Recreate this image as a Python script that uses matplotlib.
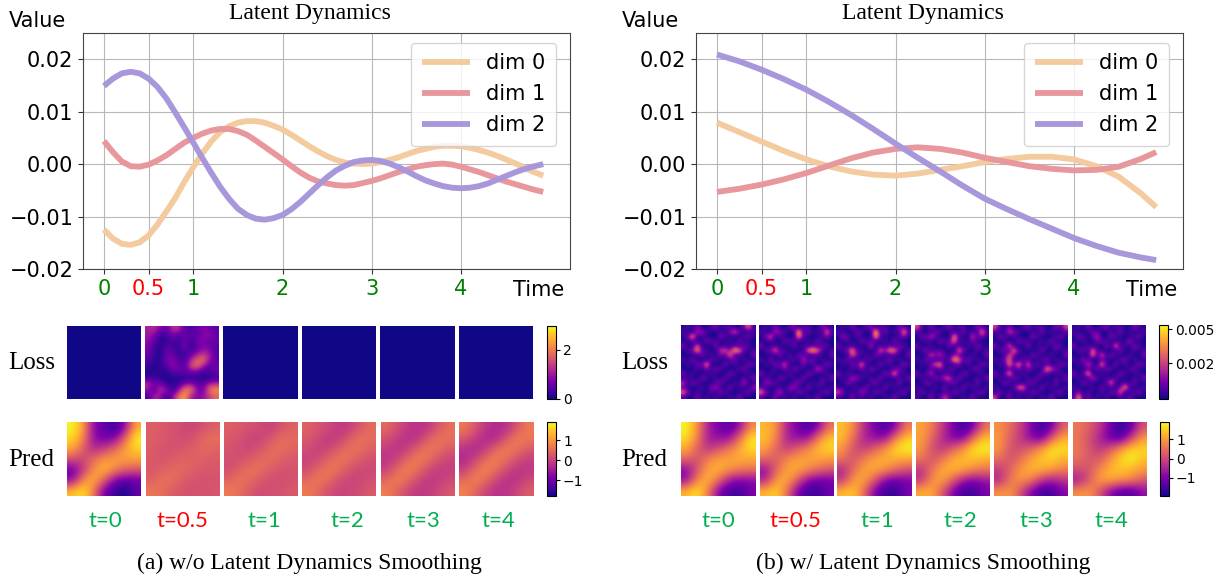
import numpy as np
import matplotlib
matplotlib.use('Agg')
import matplotlib.pyplot as plt
from matplotlib.cm import ScalarMappable
from matplotlib.colors import Normalize

W, H = 1225, 581

# кривые, значения
t_a = [0, .1, .2, .3, .4, .5, .6, .7, .8, .9, 1.0, 1.1, 1.2, 1.3, 1.4, 1.5, 1.6, 1.7, 1.8, 1.9, 2.0, 2.1, 2.2, 2.3, 2.4,
       2.5, 2.6, 2.7, 2.8, 2.9, 3.0, 3.1, 3.2, 3.3, 3.4, 3.5, 3.6, 3.7, 3.8, 3.9, 4.0, 4.1, 4.2, 4.3, 4.4, 4.5, 4.6, 4.7, 4.8, 4.92]
a_dim0 = [-.0125, -.0142, -.0152, -.0154, -.0149, -.0136, -.0115, -.0090, -.0064, -.0034, -.0006, .0020, .0043, .0061, .0072,
          .0079, .0082, .0082, .0079, .0073, .0066, .0056, .0045, .0034, .0024, .0015, .0008, .0003, .0001, 0, .0001, .0004,
          .0008, .0013, .0019, .0025, .0029, .0033, .0035, .0035, .0034, .0031, .0027, .0022, .0016, .0009, .0002, -.0006, -.0014, -.0022]
a_dim1 = [.0044, .0023, .0005, -.0004, -.0005, -.0001, .0007, .0017, .0029, .0041, .0050, .0058, .0064, .0067, .0067, .0063,
          .0056, .0045, .0033, .0021, .0009, -.0004, -.0016, -.0026, -.0033, -.0037, -.0040, -.0041, -.0040, -.0036, -.0032,
          -.0027, -.0021, -.0015, -.0010, -.0005, -.0002, 0, .0001, -.0001, -.0005, -.0010, -.0015, -.0021, -.0027, -.0033,
          -.0038, -.0043, -.0048, -.0053]
a_dim2 = [.0149, .0163, .0173, .0176, .0173, .0163, .0147, .0125, .0098, .0070, .0041, .0012, -.0016, -.0043, -.0066, -.0085,
          -.0097, -.0104, -.0106, -.0103, -.0097, -.0086, -.0072, -.0056, -.0040, -.0025, -.0012, -.0003, .0004, .0007, .0008,
          .0006, .0001, -.0006, -.0014, -.0023, -.0031, -.0037, -.0042, -.0045, -.0046, -.0045, -.0042, -.0037, -.0030, -.0023,
          -.0016, -.0010, -.0005, 0]

t_b = [0, .25, .5, .75, 1, 1.25, 1.5, 1.75, 2, 2.25, 2.5, 2.75, 3, 3.25, 3.5, 3.75, 4, 4.25, 4.5, 4.75, 4.92]
b_dim0 = [.0079, .0061, .0043, .0025, .0009, -.0004, -.0014, -.0020, -.0022, -.0018, -.0011, -.0004, .0004, .0010, .0014, .0014, .0009, -.0004, -.0024, -.0056, -.0082]
b_dim1 = [-.0053, -.0047, -.0039, -.0029, -.0017, -.0003, .0011, .0022, .0029, .0032, .0029, .0022, .0012, .0004, -.0004, -.0009, -.0012, -.0011, -.0005, .0010, .0023]
b_dim2 = [.0209, .0196, .0180, .0162, .0142, .0119, .0094, .0067, .0039, .0012, -.0014, -.0041, -.0066, -.0086, -.0105, -.0123, -.0141, -.0156, -.0169, -.0178, -.0183]

dim_labels = ['dim 0', 'dim 1', 'dim 2']
dim_colors = ['#F3CB9E', '#E8979C', '#A897DB']
x_ticks = [0, 0.5, 1, 2, 3, 4]
x_labels = ['0', '0.5', '1', '2', '3', '4']
x_label_colors = ['green', 'red', 'green', 'green', 'green', 'green']
y_ticks = [-0.02, -0.01, 0, 0.01, 0.02]
y_labels = ['\u22120.02', '\u22120.01', '0.00', '0.01', '0.02']
t_labels = ['t=0', 't=0.5', 't=1', 't=2', 't=3', 't=4']

# Pred, сетки 7x7
pred_a = [
    [[1.9, 1.2, -.8, -1.1, -1.6, -.8, 1.2], [1.7, .9, -.7, -1.0, -.9, .4, 1.9], [1.2, .4, -.4, -.1, .4, 1.1, 1.6],
     [.2, 0, .5, 1.0, 1.1, 1.1, 1.1], [-1.1, -.2, .9, 1.4, .9, .4, .3], [-.8, .8, 1.4, .4, -.9, -1.2, -1.1], [1.4, 1.8, .7, -1.0, -1.5, -1.8, -1.1]],
    [[.35, .3, .2, .1, 0, .2, .35], [.35, .3, .2, .1, .2, .5, .55], [.35, .2, .2, .25, .35, .5, .4],
     [.3, .2, .3, .4, .4, .35, .3], [.25, .35, .5, .5, .35, .25, .25], [.35, .6, .55, .3, .2, .2, .2], [.65, .55, .3, .2, .2, .2, .25]],
    [[.35, .3, .2, .1, -.05, .2, .4], [.3, .2, 0, 0, .25, .55, .45], [.25, .1, .05, .25, .5, .55, .4],
     [.15, .15, .3, .5, .55, .35, .25], [.15, .4, .6, .55, .3, .2, .2], [.4, .65, .5, .25, .15, .15, .2], [.7, .5, .25, .1, .15, .2, .3]],
    [[.4, .25, .1, -.1, -.1, .25, .5], [.3, .1, -.1, -.1, .3, .6, .5], [.15, -.05, 0, .35, .6, .55, .35],
     [0, .1, .4, .65, .55, .3, .15], [.1, .45, .7, .55, .2, .05, .1], [.45, .7, .5, .15, 0, .05, .15], [.7, .45, .15, 0, .05, .15, .3]],
    [[.5, .2, -.1, -.25, -.15, .25, .55], [.2, -.05, -.3, -.2, .3, .65, .55], [-.05, -.25, -.05, .4, .7, .55, .3],
     [-.2, 0, .45, .75, .55, .2, 0], [-.05, .45, .8, .55, .1, -.1, -.05], [.45, .8, .5, .05, -.15, -.1, .1], [.75, .4, .05, -.15, -.1, .1, .3]],
    [[.7, .3, -.15, -.35, -.25, .25, .7], [.3, -.05, -.4, -.35, .25, .75, .65], [-.2, -.4, -.1, .45, .75, .6, .3],
     [-.35, 0, .5, .8, .55, .15, -.05], [-.1, .5, .85, .55, .05, -.2, -.15], [.5, .85, .5, 0, -.25, -.2, .1], [.8, .4, 0, -.25, -.2, .1, .35]],
]
pred_b = [
    [[1.9, 1.0, -.6, -1.0, -1.4, -.8, .8], [1.7, .8, -.6, -.8, -.8, .5, 1.8], [1.2, .3, -.3, .1, .6, 1.2, 1.7],
     [.4, .1, .7, 1.1, 1.1, 1.2, 1.1], [-.9, .1, 1.1, 1.3, 1.0, .7, .6], [-.9, .8, 1.4, .5, -.7, -1.0, -.9], [1.3, 1.8, .7, -1.0, -1.5, -1.6, -1.0]],
    [[1.3, 1.0, -.5, -1.0, -1.6, -1.0, .5], [1.4, .8, -.5, -.8, -.8, .6, 1.5], [1.1, .4, -.2, .3, .8, 1.4, 1.6],
     [.4, .2, .8, 1.1, 1.1, 1.1, 1.0], [-.8, .3, 1.1, 1.2, .9, .5, .2], [-.6, 1.0, 1.3, .3, -.9, -1.2, -1.1], [1.3, 1.6, .6, -1.0, -1.6, -1.6, -1.1]],
    [[1.4, .9, -.4, -1.0, -1.6, -.9, .6], [1.4, .5, -.5, -.8, -.9, .7, 1.5], [1.0, .1, -.2, .3, .9, 1.7, 1.9],
     [.6, .1, .7, 1.1, 1.2, 1.2, 1.1], [-.5, .4, 1.1, 1.2, 1.0, .5, .1], [-.3, 1.0, 1.2, .2, -1.0, -1.2, -1.0], [1.3, 1.5, .5, -1.0, -1.6, -1.7, -1.0]],
    [[1.1, .7, -.2, -1.0, -1.7, -1.0, .5], [1.1, .4, -.4, -1.0, -1.1, .6, 1.4], [1.0, .1, -.3, .3, 1.0, 1.8, 1.9],
     [.6, .1, .6, 1.2, 1.3, 1.4, 1.2], [-.3, .5, 1.2, 1.3, 1.2, .8, .6], [-.3, .9, 1.2, .3, -.7, -1.0, -.7], [1.2, 1.2, .2, -1.0, -1.6, -1.6, -1.0]],
    [[.9, .5, -.1, -.9, -1.7, -1.1, .3], [1.0, .3, -.2, -.9, -1.3, .3, 1.2], [1.0, .1, 0, .4, 1.0, 1.8, 1.7],
     [.5, .1, .5, 1.1, 1.4, 1.6, 1.2], [-.2, .3, 1.0, 1.3, 1.3, 1.0, .7], [-.5, .6, 1.0, .7, -.3, -.6, -.3], [.9, 1.0, .1, -1.0, -1.6, -1.6, -.9]],
    [[.6, .3, -.2, -1.0, -1.8, -1.3, .1], [.6, .1, -.5, -1.2, -1.5, -.2, 1.0], [.6, .2, -.3, .1, .9, 1.6, 1.6],
     [.5, .2, .2, .9, 1.6, 1.9, 1.4], [.1, .1, .8, 1.3, 1.4, 1.3, 1.0], [-.7, .2, 1.1, 1.2, 1.0, .8, .2], [.9, 1.0, .2, -.9, -1.4, -1.5, -.8]],
]

# Loss без сглаживания
loss_a_zero = [[0.02, 0.02], [0.02, 0.02]]
loss_a_half = [
    [1.1, 1.2, .8, .5, 1.3, 1.2, .5, .3, .6, .8, .6, .5],
    [1.0, .8, .2, .3, .7, .4, .5, .6, .4, .8, .9, .5],
    [.9, .5, .1, .2, .4, .2, .7, .2, .7, .8, .5, .6],
    [.8, .3, .1, .5, .3, .2, .8, .1, .5, .8, .7, .4],
    [.7, .2, .1, .6, .6, .2, .3, .5, .9, 1.2, 1.0, .4],
    [.5, .2, .1, .7, .8, .4, .3, 1.1, 1.7, 2.0, .9, .5],
    [.3, .1, .2, .5, .9, .6, .4, 1.6, 2.0, 1.0, .5, .6],
    [.1, .1, .2, .1, .5, .6, .5, .7, .6, .3, .4, .7],
    [.2, .3, .1, .1, .1, .1, .2, .1, .1, .1, .1, .2],
    [1.3, .6, .8, .1, .2, .2, .7, .9, .5, .5, 1.1, 1.2],
    [.9, .3, 1.3, 1.0, .1, .9, 2.2, 2.0, .8, .6, 2.0, 2.2],
    [.3, 1.2, .9, .2, .8, 2.0, 2.3, 1.0, .8, .9, 1.4, 1.8],
]

# Loss со сглаживанием: общий фон и пятна (столбец, строка, значение*1000) на сетке 16x16
loss_b_base = ['0102001201100210', '1000210010201001', '0210100021000120', '0010021100102000',
               '2001000201010210', '0120110000200101', '0000201021001002', '1020001100120100',
               '0102100002010021', '0001020210001200', '2010001000210010', '0100210102000102',
               '0021000120010200', '1000102000201001', '0201001021000120', '1002010100102000']
loss_b_spots = [
    [(2, 2, 4.2), (3, 5, 4.3), (3, 4, 3.2), (5, 8, 4.3), (11, 5, 5.0), (12, 5, 3.4), (10, 6, 3.6), (8, 5, 2.6), (11, 1, 3.2), (14, 0, 3.6), (0, 14, 3.6),
     (0, 12, 2.6), (13, 12, 2.6), (15, 13, 2), (7, 13, 2), (3, 1, 2.1), (9, 5, 2.6)],
    [(2, 2, 3.2), (8, 1, 5.0), (8, 2, 4.2), (3, 5, 3.4), (11, 5, 4.8), (10, 5, 3.6), (12, 5, 3.4), (5, 8, 3.2), (12, 9, 2.8), (14, 1, 3.6), (0, 14, 3.6),
     (4, 14, 2.4), (7, 13, 1.9), (1, 12, 2), (9, 7, 2.4), (3, 1, 2)],
    [(8, 1, 5.3), (8, 2, 4.6), (14, 1, 4.3), (3, 5, 4), (3, 6, 3.2), (5, 8, 3.8), (9, 5, 3.2), (11, 5, 4.3), (12, 5, 3.6), (12, 10, 4.2),
     (7, 4, 2.4), (3, 11, 2.4), (0, 14, 2.8), (5, 14, 2.1), (1, 2, 2.2)],
    [(8, 2, 4.1), (8, 3, 3.9), (14, 1, 4.1), (9, 5, 3.6), (8, 7, 5), (9, 7, 3.4), (3, 6, 3), (5, 6, 2.4), (5, 8, 3.8), (4, 8, 3.2), (3, 10, 2.6),
     (6, 11, 2.6), (7, 11, 2.8), (6, 15, 2.6), (0, 0, 3), (12, 2, 2.6), (3, 2, 2.6)],
    [(3, 4, 3.4), (4, 5, 3.9), (3, 7, 3.4), (3, 8, 4.1), (5, 8, 4.3), (7, 8, 3.4), (11, 9, 4.3), (3, 10, 4.3), (5, 13, 3.4), (6, 13, 3.4),
     (0, 15, 2.6), (15, 0, 2.8), (0, 0, 2.8), (3, 1, 2.8), (12, 9, 2.4), (3, 6, 3)],
    [(4, 5, 3.6), (4, 6, 3.9), (3, 8, 3), (6, 6, 3.4), (6, 8, 4.1), (9, 4, 3.9), (3, 10, 4.3), (8, 12, 3.9), (11, 13, 4.3), (10, 14, 3.4),
     (1, 15, 4.1), (2, 7, 2), (5, 2, 2.4), (12, 3, 2), (4, 11, 2.4)],
]

loss_a_range = (0, 2.95)
pred_a_range = (-1.8, 1.9)
loss_b_range = (-0.0001, 0.0053)
pred_b_range = (-1.95, 1.9)

fig = plt.figure(figsize=(W / 100, H / 100), dpi=100)


def ax_px(x0, y0, x1, y1):
    return fig.add_axes([x0 / W, 1 - y1 / H, (x1 - x0) / W, (y1 - y0) / H])


def text_px(x, y, s, **kw):
    fig.text(x / W, 1 - y / H, s, ha=kw.pop('ha', 'center'), va='center', **kw)


def line_panel(box, t, curves, dx):
    ax = ax_px(*box)
    for v, c, lab in zip(curves, dim_colors, dim_labels):
        ax.plot(t, v, color=c, lw=4.2, label=lab, solid_capstyle='butt')
    ax.set_xlim(-0.235, 5.22)
    ax.set_ylim(-0.02, 0.025)
    ax.set_xticks(x_ticks)
    ax.set_xticklabels(x_labels, fontsize=15)
    for lab, c in zip(ax.get_xticklabels(), x_label_colors):
        lab.set_color(c)
    ax.set_yticks(y_ticks)
    ax.set_yticklabels(y_labels, fontsize=15)
    ax.grid(True, color='#b8b8b8', lw=0.8)
    ax.set_axisbelow(True)
    ax.tick_params(length=3.5, color='#333333')
    for s in ax.spines.values():
        s.set_color('#444444')
    ax.legend(loc='upper right', fontsize=15, labelspacing=0.53, handlelength=2.3,
              bbox_to_anchor=(0.971, 0.958), borderaxespad=0, borderpad=0.5)
    text_px(37 + dx, 21, 'Value', fontsize=15)
    text_px(539 + dx, 290, 'Time', fontsize=15)
    text_px(310 + dx, 13, 'Latent Dynamics', fontsize=17, family='Liberation Serif')


def heat(box, data, rng):
    ax = ax_px(*box)
    ax.imshow(data, cmap='plasma', vmin=rng[0], vmax=rng[1], aspect='auto', interpolation='bicubic')
    ax.axis('off')


def cbar(box, rng, ticks, labels):
    cax = ax_px(*box)
    cb = fig.colorbar(ScalarMappable(Normalize(*rng), cmap='plasma'), cax=cax)
    cb.set_ticks(ticks)
    cb.set_ticklabels(labels)
    cb.ax.tick_params(labelsize=10, length=3, pad=2)


def spot_grid(spots):
    g = np.array([[int(ch) * 0.0007 for ch in row] for row in loss_b_base])
    for c, r, v in spots:
        g[r, c] = v / 1000
    return g


line_panel((83, 33, 570, 269), t_a, [a_dim0, a_dim1, a_dim2], 0)
line_panel((696, 33, 1183, 269), t_b, [b_dim0, b_dim1, b_dim2], 613)

xa_loss = [(67, 141), (145, 219), (223, 298), (302, 376), (380, 455), (459, 533)]
xa_pred = [(67, 141), (146, 220), (224, 298), (302, 376), (381, 455), (459, 534)]
xb_loss = [(681, 756), (759, 834), (836, 911), (915, 989), (993, 1068), (1072, 1146)]
xb_pred = [(681, 756), (760, 834), (837, 912), (916, 990), (994, 1068), (1073, 1147)]

for i in range(6):
    grid = loss_a_half if i == 1 else loss_a_zero
    heat((xa_loss[i][0], 326, xa_loss[i][1], 399), grid, loss_a_range)
    heat((xa_pred[i][0], 422, xa_pred[i][1], 496), pred_a[i], pred_a_range)
    heat((xb_loss[i][0], 325, xb_loss[i][1], 399), spot_grid(loss_b_spots[i]), loss_b_range)
    heat((xb_pred[i][0], 422, xb_pred[i][1], 496), pred_b[i], pred_b_range)

cbar((547, 326, 556, 399), loss_a_range, [0, 2], ['0', '2'])
cbar((547, 422, 556, 496), pred_a_range, [-1, 0, 1], ['\u22121', '0', '1'])
cbar((1159, 325, 1168, 399), loss_b_range, [0.0025, 0.005], ['0.002', '0.005'])
cbar((1160, 422, 1169, 496), pred_b_range, [-1, 0, 1], ['\u22121', '0', '1'])

for dx, lx in [(0, 8), (613, 621)]:
    text_px(lx, 363, 'Loss', ha='left', fontsize=18, family='Liberation Serif')
    text_px(lx, 460, 'Pred', ha='left', fontsize=18, family='Liberation Serif')
    for x, lab in zip([105, 182, 264, 347, 423, 498], t_labels):
        text_px(x + dx, 521, lab, fontsize=16, family='Lato', color='red' if lab == 't=0.5' else '#00B050')

text_px(309, 563, '(a) w/o Latent Dynamics Smoothing', fontsize=17, family='Liberation Serif')
text_px(923, 563, '(b) w/ Latent Dynamics Smoothing', fontsize=17, family='Liberation Serif')

plt.savefig('out.png', dpi=100)
